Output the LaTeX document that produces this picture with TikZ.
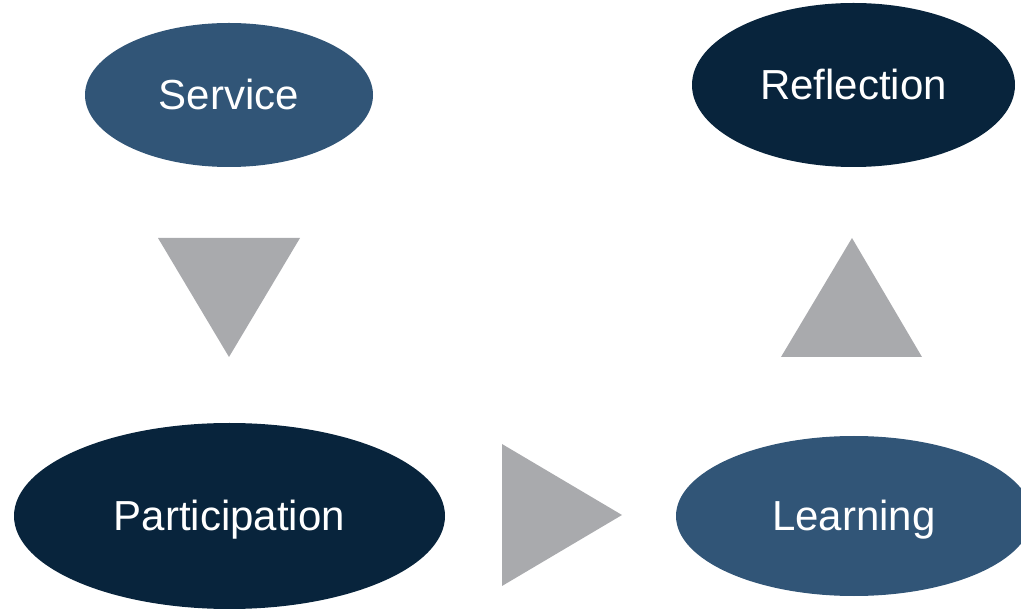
\documentclass[tikz,border=0pt]{standalone}
\usepackage{fontspec}
\setmainfont{Liberation Sans}
\usetikzlibrary{shapes.geometric}
\definecolor{darkblue}{HTML}{08243C}
\definecolor{midblue}{HTML}{315577}
\definecolor{arrowgray}{HTML}{A9AAAD}
\tikzset{
  bubble/.style={ellipse, inner sep=0pt, text=white,
    font=\fontsize{42pt}{42pt}\selectfont, text height=30pt, text depth=0pt},
  pointer/.style={fill=arrowgray, draw=none}
}
\begin{document}
\begin{tikzpicture}[x=1pt,y=-1pt]
\useasboundingbox (0,0) rectangle (1021,609);
\clip (0,0) rectangle (1021,609);
\node[bubble, fill=midblue, minimum width=288pt, minimum height=144pt] (service) at (229,95) {Service};
\node[bubble, fill=darkblue, minimum width=323pt, minimum height=164pt] (reflection) at (853.5,85) {Reflection};
\node[bubble, fill=darkblue, minimum width=431pt, minimum height=186pt] (participation) at (229.5,516) {Participation};
\node[bubble, fill=midblue, minimum width=356pt, minimum height=160pt] (learning) at (854,516) {Learning};
\fill[pointer] (158,238) -- (300,238) -- (229,357) -- cycle;
\fill[pointer] (781,357) -- (922,357) -- (852,238) -- cycle;
\fill[pointer] (502,444) -- (502,586) -- (622,515) -- cycle;
\end{tikzpicture}
\end{document}
